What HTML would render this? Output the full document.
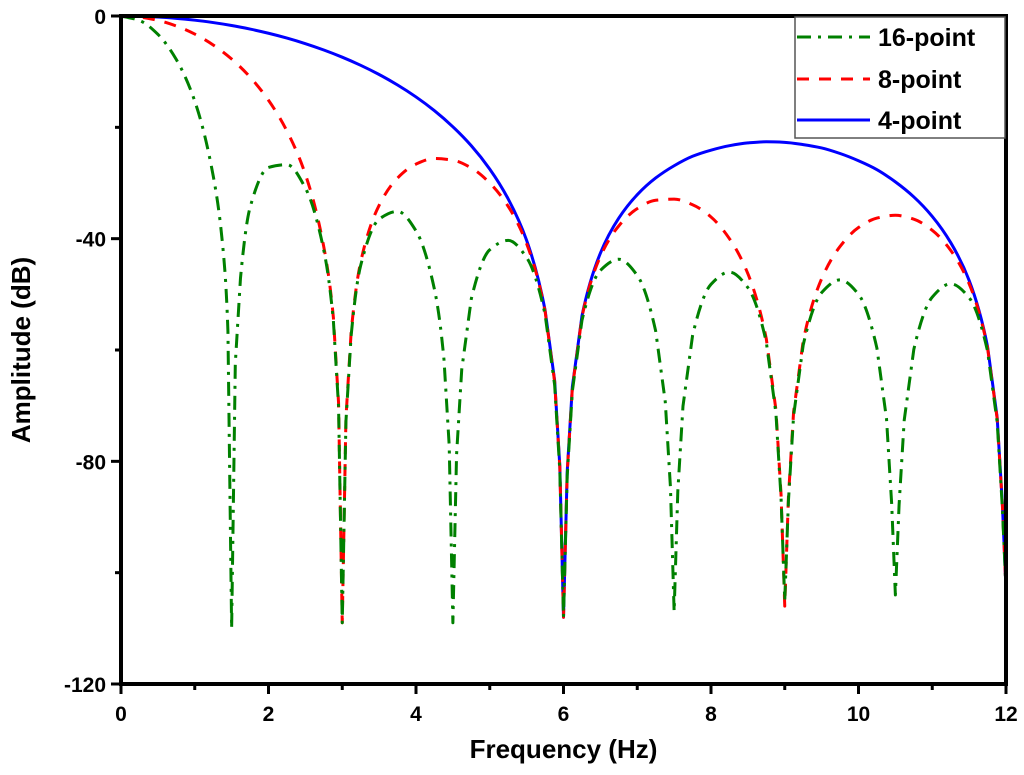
<!DOCTYPE html>
<html><head><meta charset="utf-8"><style>
html,body{margin:0;padding:0;background:#fff;}
svg{display:block;font-family:"Liberation Sans",Arial,sans-serif;font-weight:bold;}
</style></head><body>
<svg id="chart" width="1024" height="775" viewBox="0 0 1024 775">
<g id="series"></g>
<g id="axes"></g>
<g id="legend">
<rect x="795" y="17" width="210" height="121" fill="#fff" stroke="#555" stroke-width="1.5"/>
<g>
<line x1="797" y1="37" x2="870" y2="37" stroke="#008000" stroke-width="3" stroke-dasharray="14,7,3,7"/>
<text x="878" y="46" font-size="25">16-point</text></g>
<g>
<line x1="797" y1="79" x2="870" y2="79" stroke="#ff0000" stroke-width="3" stroke-dasharray="12,10"/>
<text x="878" y="88" font-size="25">8-point</text></g>
<g>
<line x1="797" y1="120" x2="870" y2="120" stroke="#0000ff" stroke-width="3"/>
<text x="878" y="129" font-size="25">4-point</text></g>
</g>
</svg>
<script>
const freq4 = [0,0.25,0.5,0.75,1,1.25,1.5,1.75,2,2.25,2.5,2.75,3,3.25,3.5,3.75,4,4.25,4.5,4.75,5,5.25,5.5,5.75,5.88,5.95,6,6.05,6.12,6.25,6.5,6.75,7,7.25,7.5,7.75,8,8.25,8.5,8.75,9,9.25,9.5,9.75,10,10.25,10.5,10.75,11,11.25,11.5,11.75,11.88,11.95,12];
const amp4 = [0,-0.05,-0.19,-0.42,-0.75,-1.18,-1.71,-2.35,-3.10,-3.97,-4.97,-6.11,-7.40,-8.86,-10.51,-12.40,-14.54,-17.01,-19.90,-23.31,-27.50,-32.86,-40.3,-52.8,-65.5,-80.8,-108,-81.9,-66.6,-53.9,-42.6,-36.3,-32.1,-29.1,-26.9,-25.2,-24.1,-23.3,-22.8,-22.6,-22.7,-23.1,-23.7,-24.7,-26.0,-27.6,-29.8,-32.5,-36.0,-40.7,-47.5,-59.4,-72.1,-87.4,-103];
const freq8 = [0,0.25,0.5,0.75,1,1.25,1.5,1.75,2,2.25,2.5,2.75,2.88,2.95,3,3.05,3.12,3.25,3.5,3.75,4,4.25,4.5,4.75,5,5.25,5.5,5.75,5.88,5.95,6,6.05,6.12,6.25,6.5,6.75,7,7.25,7.5,7.75,8,8.25,8.5,8.75,8.88,8.95,9,9.05,9.12,9.25,9.5,9.75,10,10.25,10.5,10.75,11,11.25,11.5,11.75,11.88,11.95,12];
const amp8 = [0,-0.20,-0.79,-1.80,-3.25,-5.20,-7.73,-10.97,-15.14,-20.67,-28.45,-41.5,-54.2,-69.5,-109,-72.2,-56.9,-44.2,-34.0,-29.1,-26.6,-25.6,-25.9,-27.3,-30.0,-34.2,-40.9,-53.0,-65.7,-81.0,-108,-82.1,-66.8,-54.1,-43.2,-37.7,-34.6,-33.1,-32.9,-33.9,-36.1,-40.0,-46.3,-58.0,-70.7,-86.0,-106,-86.4,-71.1,-58.4,-47.2,-41.4,-38.0,-36.3,-35.8,-36.5,-38.5,-42.1,-48.1,-59.6,-72.3,-87.6,-103];
const freq16 = [0,0.25,0.5,0.75,1,1.25,1.38,1.45,1.5,1.55,1.62,1.75,2,2.25,2.5,2.75,2.88,2.95,3,3.05,3.12,3.25,3.5,3.75,4,4.25,4.38,4.45,4.5,4.55,4.62,4.75,5,5.25,5.5,5.75,5.88,5.95,6,6.05,6.12,6.25,6.5,6.75,7,7.25,7.38,7.45,7.5,7.55,7.62,7.75,8,8.25,8.5,8.75,8.88,8.95,9,9.05,9.12,9.25,9.5,9.75,10,10.25,10.38,10.45,10.5,10.55,10.62,10.75,11,11.25,11.5,11.75,11.88,11.95,12];
const amp16 = [0,-0.80,-3.29,-7.82,-15.29,-28.7,-41.4,-56.7,-110,-62.4,-47.1,-34.4,-27.2,-26.7,-30.9,-42.1,-54.8,-70.1,-109,-72.8,-57.5,-44.8,-36.5,-35.1,-38.6,-49.1,-61.8,-77.1,-109,-78.8,-63.5,-50.8,-42.0,-40.3,-43.4,-53.6,-66.3,-81.6,-108,-82.7,-67.4,-54.7,-45.7,-43.7,-46.6,-56.6,-69.3,-84.6,-107,-85.4,-70.1,-57.4,-48.2,-46.0,-48.8,-58.6,-71.3,-86.6,-105,-87.1,-71.8,-59.1,-49.7,-47.4,-50.0,-59.7,-72.4,-87.7,-104,-87.9,-72.6,-59.9,-50.5,-48.1,-50.6,-60.2,-72.9,-88.2,-103];
const xTicks = [0,2,4,6,8,10,12];
const yTicks = [0,-40,-80,-120];

const NS = "http://www.w3.org/2000/svg";
const L = 121, R = 1006, T = 16, B = 684;
const X = v => L + (v - 0) / 12 * (R - L);
const Y = v => T + (0 - v) / 120 * (B - T);

function mk(tag, attrs, parent) {
  const e = document.createElementNS(NS, tag);
  for (const k in attrs) e.setAttribute(k, attrs[k]);
  parent.appendChild(e);
  return e;
}

function monoPath(xs, ys, vals) {
  const n = xs.length, d = [], m = [];
  for (let i = 0; i < n - 1; i++) d.push((ys[i+1]-ys[i])/(xs[i+1]-xs[i]));
  m[0] = d[0]; m[n-1] = d[n-2];
  for (let i = 1; i < n - 1; i++) {
    if (d[i-1] * d[i] <= 0) m[i] = 0;
    else { const h0 = xs[i]-xs[i-1], h1 = xs[i+1]-xs[i];
      m[i] = 3*(h0+h1)/((2*h1+h0)/d[i-1] + (h1+2*h0)/d[i]); }
  }
  let p = "M" + xs[0].toFixed(2) + "," + ys[0].toFixed(2);
  for (let i = 0; i < n - 1; i++) {
    if (vals[i] < -62 || vals[i+1] < -62) {
      p += " L" + xs[i+1].toFixed(2) + "," + ys[i+1].toFixed(2);
      continue;
    }
    const h = xs[i+1]-xs[i];
    p += " C" + (xs[i]+h/3).toFixed(2) + "," + (ys[i]+m[i]*h/3).toFixed(2) + " " +
         (xs[i+1]-h/3).toFixed(2) + "," + (ys[i+1]-m[i+1]*h/3).toFixed(2) + " " +
         xs[i+1].toFixed(2) + "," + ys[i+1].toFixed(2);
  }
  return p;
}

const sg = document.getElementById("series");
const defs = [
  {f: freq4, vals: amp4, color: "#0000ff", dash: "none", name: "series-4-point"},
  {f: freq8, vals: amp8, color: "#ff0000", dash: "12,10", name: "series-8-point"},
  {f: freq16, vals: amp16, color: "#008000", dash: "14,7,3,7", name: "series-16-point"}
];
defs.forEach(s => {
  const xs = s.f.map(X), ys = s.vals.map(Y);
  const p = mk("path", {d: monoPath(xs, ys, s.vals), fill: "none", stroke: s.color, "stroke-width": 3, "stroke-dasharray": s.dash, "stroke-linejoin": "round"}, sg);
  
  
});

const ax = document.getElementById("axes");
const frame = mk("rect", {x: L, y: T, width: R - L, height: B - T, fill: "none", stroke: "#000", "stroke-width": 4}, ax);



for (let v = 0; v <= 12; v += 1) {
  const major = v % 2 === 0;
  const t = mk("line", {x1: X(v), x2: X(v), y1: B, y2: B + (major ? 10 : 6), stroke: "#000", "stroke-width": 3}, ax);
  
  
}
xTicks.forEach(v => {
  const t = mk("text", {x: X(v), y: B + 37, "font-size": 21, "text-anchor": "middle"}, ax);
  t.textContent = v;
  
  
});
for (let v = 0; v >= -120; v -= 20) {
  const major = v % 40 === 0;
  const t = mk("line", {x1: L - (major ? 10 : 6), x2: L, y1: Y(v), y2: Y(v), stroke: "#000", "stroke-width": 3}, ax);
  
  
}
yTicks.forEach(v => {
  const t = mk("text", {x: L - 15, y: Y(v) + 8, "font-size": 21, "text-anchor": "end"}, ax);
  t.textContent = v;
  
  
});
const xt = mk("text", {x: (L + R) / 2, y: 758, "font-size": 26, "text-anchor": "middle"}, ax);
xt.textContent = "Frequency (Hz)";


const yt = mk("text", {x: 0, y: 0, "font-size": 26, "text-anchor": "middle", transform: "translate(30," + ((T + B) / 2) + ") rotate(-90)"}, ax);
yt.textContent = "Amplitude (dB)";


</script>
</body></html>
